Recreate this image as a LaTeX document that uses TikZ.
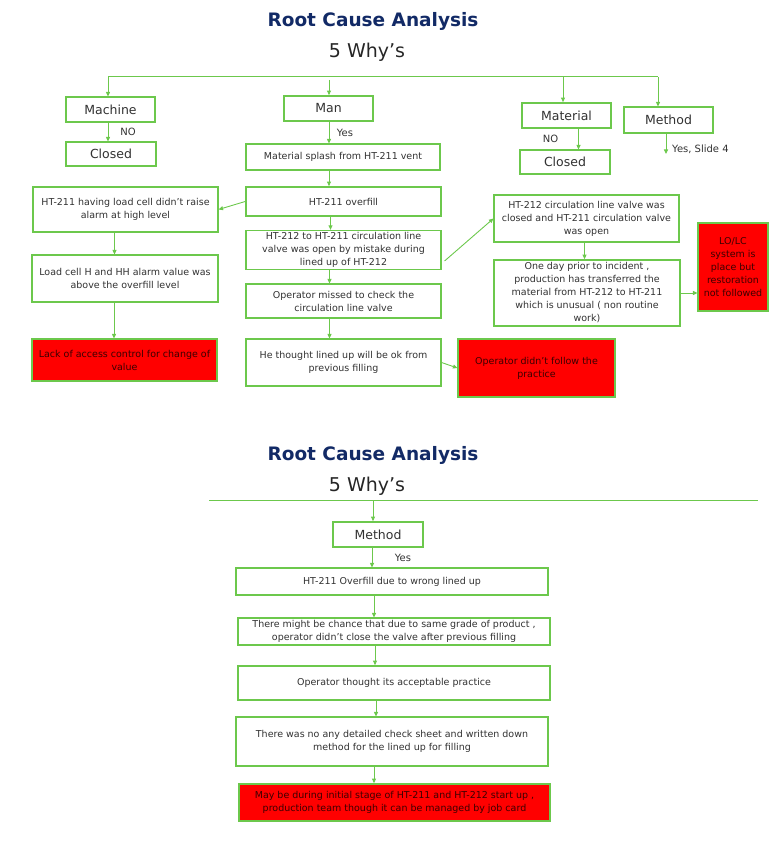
\documentclass[tikz,border=0pt]{standalone}
\usepackage{fontspec}
\setmainfont{DejaVu Sans}
\usetikzlibrary{arrows.meta}
\definecolor{gr}{RGB}{108,200,76}
\definecolor{navy}{RGB}{18,42,102}
\definecolor{txt}{RGB}{50,50,50}
\definecolor{redtxt}{RGB}{60,0,0}
\begin{document}
\begin{tikzpicture}[x=1pt,y=-1pt,
  box/.style={draw=gr, line width=1.1pt, fill=white, text=txt, align=center,
    font=\fontsize{9.5}{13}\selectfont, inner sep=2pt},
  thick box/.style={line width=1.7pt},
  redbox/.style={box, fill=red, text=redtxt},
  lbl/.style={box, font=\fontsize{12.5}{15}\selectfont},
  small/.style={text=txt, font=\fontsize{10}{12}\selectfont, inner sep=0pt},
  arr/.style={draw=gr, line width=0.9pt, -{Triangle[length=4.5pt,width=4pt]}},
  ttl/.style={text=navy, font=\fontsize{18.5}{22}\selectfont\bfseries, inner sep=0pt},
  why/.style={text=black!85, font=\fontsize{19}{22}\selectfont, inner sep=0pt}]
\useasboundingbox (0,0) rectangle (768,866);

% ===== top section =====
\node[ttl] (title1) at (373,21) {Root Cause Analysis};
\node[why] (why1) at (367,52) {5 Why’s};

\coordinate (tl) at (108,77);
\coordinate (tr) at (658,77);
\coordinate (tman) at (329,77);
\coordinate (tmat) at (563,77);
\draw[draw=gr, line width=1pt] (tl) -- (tr);

\node[lbl, minimum width=89pt, minimum height=25pt] (machine) at (110.5,109.5) {Machine};
\node[lbl, minimum width=90pt, minimum height=24pt] (closed1) at (111,154) {Closed};
\node[lbl, thick box, minimum width=89pt, minimum height=25pt] (man) at (328.5,108.5) {Man};
\node[lbl, thick box, minimum width=89pt, minimum height=25pt] (material) at (566.5,115.5) {Material};
\node[lbl, minimum width=90pt, minimum height=24pt] (closed2) at (565,162) {Closed};
\node[lbl, minimum width=89pt, minimum height=26pt] (method1) at (668.5,120) {Method};

\node[box, minimum width=194pt, minimum height=26pt] (splash) at (343,157) {Material splash from HT-211 vent};
\node[box, thick box, minimum width=195pt, minimum height=29pt] (overfill) at (343.5,201.5) {HT-211 overfill};
\node[box, minimum width=195pt, minimum height=36pt] (mistake) at (343.5,250) {HT-212 to HT-211 circulation line\\valve was open by mistake during\\lined up of HT-212};
\node[box, minimum width=195pt, minimum height=34pt] (missed) at (343.5,301) {Operator missed to check the\\circulation line valve};
\node[box, minimum width=195pt, minimum height=47pt] (thought) at (343.5,362.5) {He thought lined up will be ok from\\previous filling};
\node[redbox, minimum width=157pt, minimum height=58pt] (didnt) at (536.5,368) {Operator didn’t follow the\\practice};

\node[box, minimum width=185pt, minimum height=45pt] (loadcell) at (125.5,209.5) {HT-211 having load cell didn’t raise\\alarm at high level};
\node[box, minimum width=186pt, minimum height=47pt] (alarmval) at (125,278.5) {Load cell H and HH alarm value was\\above the overfill level};
\node[redbox, minimum width=185pt, minimum height=42pt] (access) at (124.5,360) {Lack of access control for change of\\value};

\node[box, minimum width=185pt, minimum height=47pt] (circ) at (586.5,218.5) {HT-212 circulation line valve was\\closed and HT-211 circulation valve\\was open};
\node[box, thick box, minimum width=186pt, minimum height=66pt] (oneday) at (587,293) {One day prior to incident ,\\production has transferred the\\material from HT-212 to HT-211\\which is unusual ( non routine\\work)};
\node[redbox, minimum width=70pt, minimum height=88pt] (lolc) at (733,267) {LO/LC\\system is\\place but\\restoration\\not followed};

\node[small] (no1) at (128,132) {NO};
\node[small] (yes1) at (345,133) {Yes};
\node[small] (no2) at (550.5,139) {NO};
\coordinate (ys4) at (666,154);
\node[small, anchor=west] (yesslide) at (672,149) {Yes, Slide 4};

\draw[arr] (tl) -- (tl |- machine.north);
\draw[arr] ([yshift=-3pt]tman) -- (tman |- man.north);
\draw[arr] (tmat) -- (tmat |- material.north);
\draw[arr] (tr) -- (tr |- method1.north);
\draw[arr] (tl |- machine.south) -- (tl |- closed1.north);
\draw[arr] (tman |- man.south) -- (tman |- splash.north);
\draw[arr] ([xshift=12pt]material.south) -- ([xshift=12pt]material.south |- closed2.north);
\draw[arr] (ys4 |- method1.south) -- (ys4);
\draw[arr] (tman |- splash.south) -- (tman |- overfill.north);
\draw[arr] ([xshift=-13pt]overfill.south) -- ([xshift=-13pt]overfill.south |- mistake.north);
\draw[arr] ([xshift=-14pt]mistake.south) -- ([xshift=-14pt]mistake.south |- missed.north);
\draw[arr] ([xshift=-14pt]missed.south) -- ([xshift=-14pt]missed.south |- thought.north);
\draw[arr] (overfill.west) -- (loadcell.east);
\draw[arr] ([xshift=-11pt]loadcell.south) -- ([xshift=-11pt]loadcell.south |- alarmval.north);
\draw[arr] ([xshift=-11pt]alarmval.south) -- ([xshift=-11pt]alarmval.south |- access.north);
\draw[arr] (thought.east) -- (didnt.west);
\draw[arr] ([xshift=3pt,yshift=-11pt]mistake.east) -- (circ.west);
\draw[arr] ([xshift=-2pt]circ.south) -- ([xshift=-2pt]circ.south |- oneday.north);
\draw[arr] (oneday.east) -- (oneday.east -| lolc.west);

% ===== bottom section =====
\node[ttl] (title2) at (373,455) {Root Cause Analysis};
\node[why] (why2) at (367,486) {5 Why’s};
\coordinate (bl) at (209,500);
\coordinate (br) at (758,500);
\coordinate (bm) at (373,500);
\draw[draw=gr, line width=0.9pt] (bl) -- (br);

\node[lbl, thick box, minimum width=90pt, minimum height=25pt] (method2) at (378,534.5) {Method};
\node[small] (yes2) at (403,558) {Yes};
\node[box, minimum width=312pt, minimum height=27pt] (over2) at (392,581.5) {HT-211 Overfill due to wrong lined up};
\node[box, minimum width=312pt, minimum height=27pt] (chance) at (394,631.5) {There might be chance that due to same grade of product ,\\operator didn’t close the valve after previous filling};
\node[box, thick box, minimum width=312pt, minimum height=34pt] (accept) at (394,683) {Operator thought its acceptable practice};
\node[box, minimum width=312pt, minimum height=49pt] (nosheet) at (392,741.5) {There was no any detailed check sheet and written down\\method for the lined up for filling};
\node[redbox, thick box, minimum width=311pt, minimum height=37pt] (maybe) at (394.5,802.5) {May be during initial stage of HT-211 and HT-212 start up ,\\production team though it can be managed by job card};

\draw[arr] (bm) -- (bm |- method2.north);
\draw[arr] ([xshift=-6pt]method2.south) -- ([xshift=-6pt]method2.south |- over2.north);
\draw[arr] ([xshift=-18pt]over2.south) -- ([xshift=-18pt]over2.south |- chance.north);
\draw[arr] ([xshift=-19pt]chance.south) -- ([xshift=-19pt]chance.south |- accept.north);
\draw[arr] ([xshift=-18pt]accept.south) -- ([xshift=-18pt]accept.south |- nosheet.north);
\draw[arr] ([xshift=-18pt]nosheet.south) -- ([xshift=-18pt]nosheet.south |- maybe.north);
\end{tikzpicture}
\end{document}
